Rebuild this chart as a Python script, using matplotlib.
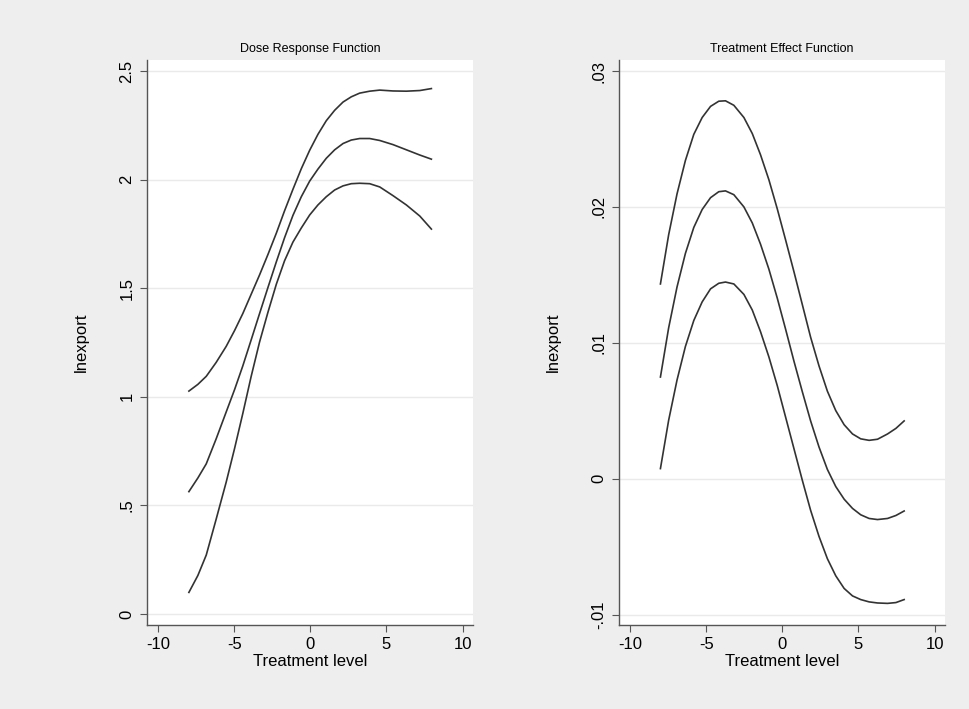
import numpy as np
import matplotlib.pyplot as plt

plt.rcParams['font.family'] = ['Liberation Sans', 'DejaVu Sans']
plt.rcParams['axes.unicode_minus'] = False

# dose response function: estimate and confidence bounds
dr_x = [-7.97, -7.38, -6.83, -6.18, -5.52, -4.97, -4.43, -3.88, -3.33, -2.78, -2.23, -1.69, -1.14, -0.59,
        -0.04, 0.50, 1.05, 1.60, 2.15, 2.69, 3.24, 3.90, 4.56, 5.43, 6.31, 7.19, 7.95]
dr_up = [1.026, 1.057, 1.094, 1.158, 1.232, 1.305, 1.383, 1.472, 1.561, 1.655, 1.753, 1.856, 1.955, 2.050,
         2.135, 2.208, 2.271, 2.319, 2.357, 2.381, 2.398, 2.407, 2.412, 2.408, 2.407, 2.410, 2.419]
dr_mid = [0.563, 0.626, 0.691, 0.806, 0.930, 1.033, 1.142, 1.262, 1.383, 1.503, 1.621, 1.732, 1.835, 1.921,
          1.993, 2.048, 2.098, 2.137, 2.166, 2.182, 2.189, 2.189, 2.180, 2.161, 2.137, 2.113, 2.094]
dr_low = [0.099, 0.177, 0.271, 0.436, 0.607, 0.762, 0.923, 1.094, 1.252, 1.389, 1.518, 1.626, 1.712, 1.777,
          1.837, 1.883, 1.921, 1.952, 1.971, 1.981, 1.983, 1.981, 1.966, 1.926, 1.883, 1.832, 1.772]

# treatment effect function
te_x = [-8.00, -7.46, -6.91, -6.36, -5.81, -5.26, -4.71, -4.17, -3.73, -3.18, -2.52, -1.97, -1.43, -0.88, -0.33,
        0.22, 0.77, 1.32, 1.86, 2.41, 2.96, 3.51, 4.06, 4.61, 5.15, 5.70, 6.25, 6.91, 7.46, 8.00]
te_up = [0.01433, 0.01795, 0.02096, 0.02342, 0.02534, 0.02658, 0.02740, 0.02778, 0.02781, 0.02748, 0.02658,
         0.02540, 0.02384, 0.02200, 0.01986, 0.01756, 0.01521, 0.01279, 0.01041, 0.00830, 0.00644, 0.00501,
         0.00397, 0.00329, 0.00293, 0.00282, 0.00290, 0.00329, 0.00370, 0.00425]
te_mid = [0.00748, 0.01110, 0.01411, 0.01658, 0.01849, 0.01981, 0.02068, 0.02112, 0.02118, 0.02090, 0.02000,
          0.01882, 0.01726, 0.01542, 0.01329, 0.01099, 0.00863, 0.00638, 0.00425, 0.00233, 0.00068, -0.00058,
          -0.00151, -0.00219, -0.00266, -0.00293, -0.00301, -0.00293, -0.00271, -0.00238]
te_low = [0.00074, 0.00430, 0.00726, 0.00973, 0.01164, 0.01301, 0.01397, 0.01438, 0.01447, 0.01433, 0.01356,
          0.01241, 0.01082, 0.00896, 0.00685, 0.00452, 0.00219, -0.00014, -0.00233, -0.00425, -0.00589, -0.00715,
          -0.00808, -0.00863, -0.00890, -0.00907, -0.00915, -0.00918, -0.00912, -0.00890]

x_ticks = [-10, -5, 0, 5, 10]
dr_yticks = [0, 0.5, 1, 1.5, 2, 2.5]
dr_ylabels = ['0', '.5', '1', '1.5', '2', '2.5']
te_yticks = [-0.01, 0, 0.01, 0.02, 0.03]
te_ylabels = ['-.01', '0', '.01', '.02', '.03']

bg = '#eeeeee'
line_col = '#333333'
axis_col = '#555555'

fig = plt.figure(figsize=(9.69, 7.09), dpi=100, facecolor=bg)
ax1 = fig.add_axes([0.1517, 0.1185, 0.3364, 0.797])
ax2 = fig.add_axes([0.6388, 0.1185, 0.3364, 0.797])


def style(ax, yticks, ylabels, ylim, title):
    ax.set_facecolor('white')
    ax.set_xlim(-10.72, 10.68)
    ax.set_ylim(*ylim)
    ax.set_xticks(x_ticks)
    ax.set_yticks(yticks)
    ax.set_yticklabels(ylabels, rotation=90, va='center')
    ax.tick_params(labelsize=12, length=5, width=0.8, color=axis_col, pad=4)
    for s in ['top', 'right']:
        ax.spines[s].set_visible(False)
    for s in ['left', 'bottom']:
        ax.spines[s].set_color(axis_col)
        ax.spines[s].set_linewidth(1.0)
    ax.yaxis.grid(True, color='#eaeaea', lw=1.0)
    ax.set_axisbelow(True)
    ax.set_xlabel('Treatment level', fontsize=12, labelpad=1)
    ax.set_ylabel('lnexport', fontsize=12, labelpad=22)
    ax.set_title(title, fontsize=9, pad=6)


kw = dict(color=line_col, lw=1.2)
ax1.plot(dr_x, dr_up, **kw)
ax1.plot(dr_x, dr_mid, **kw)
ax1.plot(dr_x, dr_low, **kw)
style(ax1, dr_yticks, dr_ylabels, (-0.051, 2.551), 'Dose Response Function')

ax2.plot(te_x, te_up, **kw)
ax2.plot(te_x, te_mid, **kw)
ax2.plot(te_x, te_low, **kw)
style(ax2, te_yticks, te_ylabels, (-0.01077, 0.03082), 'Treatment Effect Function')

fig.savefig('out.png', dpi=100, facecolor=bg)
